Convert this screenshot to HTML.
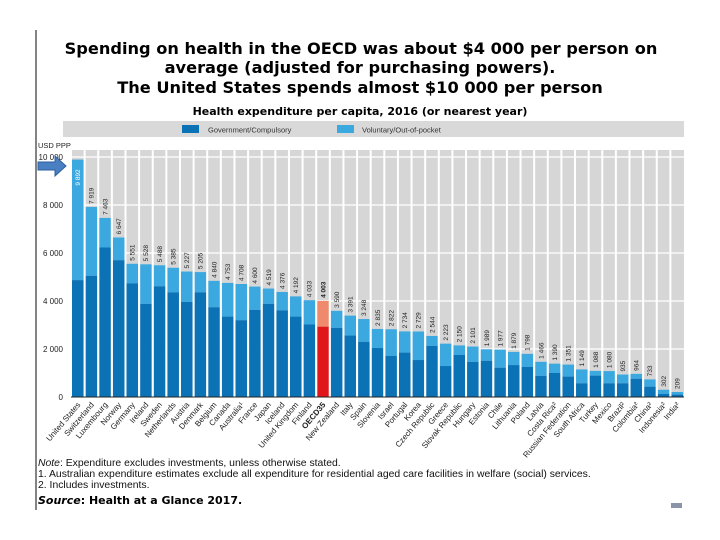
<!DOCTYPE html>
<html><head><meta charset="utf-8"><style>
body{margin:0;background:#fff;width:720px;height:540px;overflow:hidden;font-family:"Liberation Sans",sans-serif}
svg{display:block}
</style></head><body>
<svg id="chart" width="720" height="540" xmlns="http://www.w3.org/2000/svg">
<line x1="36" y1="30" x2="36" y2="510" stroke="#333" stroke-width="1.2"/>
<g font-family="DejaVu Sans, Liberation Sans, sans-serif" font-weight="bold" text-anchor="middle" fill="#000">
<text x="361" y="54" font-size="16.2">Spending on health in the OECD was about $4 000 per person on</text>
<text x="360" y="73" font-size="16.2">average (adjusted for purchasing powers).</text>
<text x="360" y="93" font-size="16.2">The United States spends almost $10 000 per person</text>
</g>
<text x="360" y="115" font-size="11" font-weight="bold" text-anchor="middle" font-family="DejaVu Sans, sans-serif">Health expenditure per capita, 2016 (or nearest year)</text>
<rect x="63" y="121" width="621" height="16" fill="#d9d9d9"/>
<g><rect x="182" y="125" width="17" height="8" fill="#0a72b5"/><text x="208" y="132.5" font-size="7.5" fill="#333">Government/Compulsory</text></g>
<g><rect x="337" y="125" width="17" height="8" fill="#3ca8e0"/><text x="362" y="132.5" font-size="7.5" fill="#333">Voluntary/Out-of-pocket</text></g>
<text x="38" y="148" font-size="7.5" fill="#222">USD PPP</text>
<g id="plot"></g>
<polygon points="38,162 55,162 55,156 66,166 55,176 55,170 38,170" fill="#4a7fc1" stroke="#2f5f9e" stroke-width="1"/>
<g font-size="10.4" fill="#111">
<text x="38" y="466"><tspan font-style="italic">Note</tspan>: Expenditure excludes investments, unless otherwise stated.</text>
<text x="38" y="477">1. Australian expenditure estimates exclude all expenditure for residential aged care facilities in welfare (social) services.</text>
<text x="38" y="488">2. Includes investments.</text>
</g>
<text x="38" y="504" font-size="11" font-weight="bold" font-family="DejaVu Sans, sans-serif"><tspan font-style="italic">Source</tspan>: Health at a Glance 2017.</text>
<rect x="671" y="503" width="11" height="5" fill="#8a94a6"/>
</svg>
<script>
const countries=["United States","Switzerland","Luxembourg","Norway","Germany","Ireland","Sweden","Netherlands","Austria","Denmark","Belgium","Canada","Australia¹","France","Japan","Iceland","United Kingdom","Finland","OECD35","New Zealand","Italy","Spain","Slovenia","Israel","Portugal","Korea","Czech Republic","Greece","Slovak Republic","Hungary","Estonia","Chile","Lithuania","Poland","Latvia","Costa Rica²","Russian Federation","South Africa","Turkey","Mexico","Brazil²","Colombia²","China²","Indonesia²","India²"];
const totals=[9892,7919,7463,6647,5551,5528,5488,5385,5227,5205,4840,4753,4708,4600,4519,4376,4192,4033,4003,3590,3391,3248,2835,2822,2734,2729,2544,2223,2150,2101,1989,1977,1879,1798,1466,1390,1351,1149,1088,1080,935,964,733,302,209];
const government=[4870,5050,6230,5700,4730,3880,4610,4360,3960,4360,3740,3350,3200,3630,3880,3610,3350,3020,2930,2880,2560,2300,2040,1710,1850,1540,2130,1290,1750,1460,1510,1220,1330,1250,880,1000,850,570,890,570,570,760,430,125,100];
const yTicks=[0,2000,4000,6000,8000,10000];
const yTickLabels=["0","2 000","4 000","6 000","8 000","10 000"];
const NS="http://www.w3.org/2000/svg";
const x0=71,x1=684,y0=397,yTop=157,vmax=10000;
const slot=(x1-x0)/countries.length;
const yS=v=>y0-(v/vmax)*(y0-yTop);
const xS=i=>x0+i*slot;
const g=document.getElementById('plot');
function mk(t,a){const e=document.createElementNS(NS,t);for(const k in a)e.setAttribute(k,a[k]);g.appendChild(e);return e;}
const bg=mk('rect',{x:x0,y:150,width:x1-x0,height:y0-150,fill:'#d6d6d6'});


yTicks.forEach((t,i)=>{
 if(t>0){const l=mk('line',{x1:x0,x2:x1,y1:yS(t),y2:yS(t),stroke:'#fff','stroke-width':1.2});
 
 }
 const tx=mk('text',{x:63,y:yS(t)+3,'font-size':8,'text-anchor':'end',fill:'#222'});
 tx.textContent=yTickLabels[i];
 
 
});
countries.forEach((c,i)=>{
 const isO=c==="OECD35";
 const bx=xS(i)+1,bw=slot-2;
 const b1=mk('rect',{x:bx,y:yS(totals[i]),width:bw,height:yS(government[i])-yS(totals[i]),fill:isO?'#f08a6c':'#3ca8e0'});
 
 
 const b2=mk('rect',{x:bx,y:yS(government[i]),width:bw,height:y0-yS(government[i]),fill:isO?'#e0161b':'#0a72b5'});
 
 
 const sp=mk('line',{x1:xS(i),x2:xS(i),y1:150,y2:y0,stroke:'#fff','stroke-width':2});
 
 
 const cx=xS(i)+slot/2;
 const vl=mk('text',{x:0,y:0,'font-size':6.5,fill:i===0?'#fff':'#222','font-weight':isO?'bold':'normal',transform:`translate(${cx+2.3},${yS(totals[i])-(i===0?-26:3)}) rotate(-90)`});
 vl.textContent=String(totals[i]).replace(/(\d)(\d{3})$/,'$1 $2');
 
 
 const xl=mk('text',{x:0,y:0,'font-size':8,'text-anchor':'end',fill:'#222','font-weight':isO?'bold':'normal',transform:`translate(${cx+3},${y0+8}) rotate(-50)`});
 xl.textContent=c;
 
 
});
const ax=mk('line',{x1:x0,x2:x1,y1:y0,y2:y0,stroke:'#222','stroke-width':1});


</script>
</body></html>
